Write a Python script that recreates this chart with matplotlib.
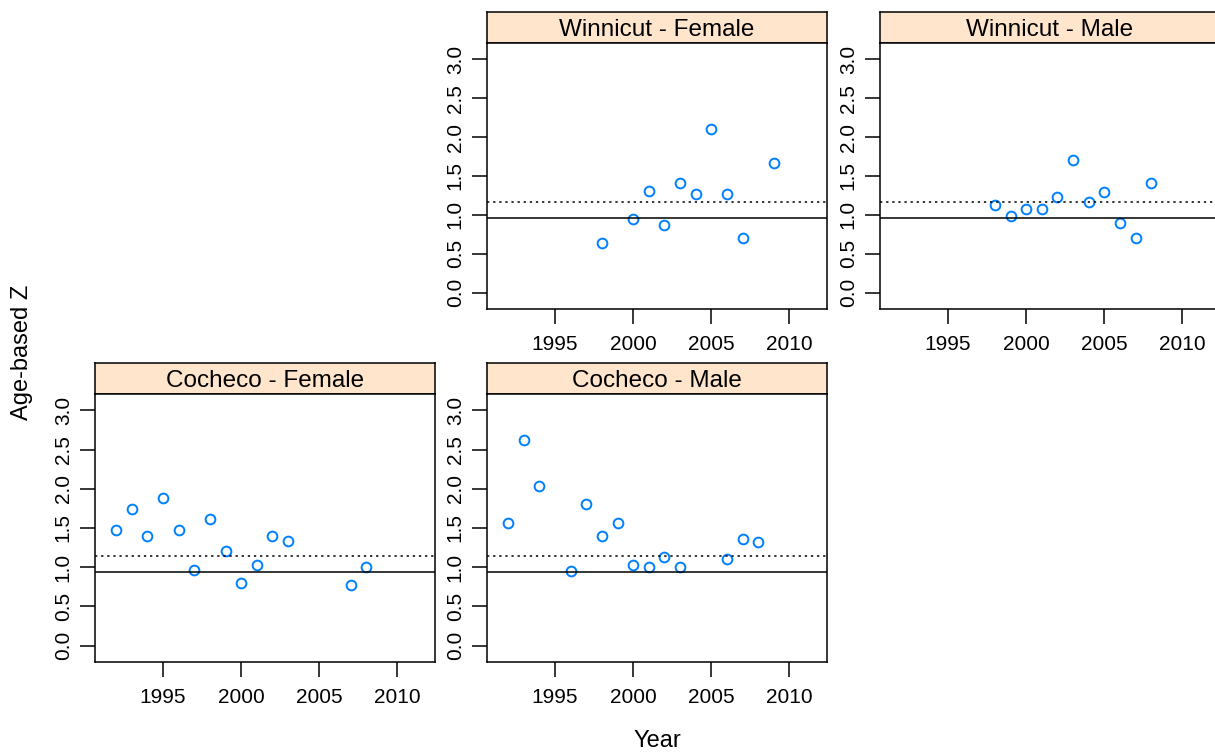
import matplotlib
matplotlib.use("Agg")
import matplotlib.pyplot as plt

plt.rcParams['font.family'] = ['Liberation Sans', 'DejaVu Sans']

# data
wf_years = [1998, 2000, 2001, 2002, 2003, 2004, 2005, 2006, 2007, 2009]
wf_z = [0.64, 0.95, 1.31, 0.87, 1.41, 1.27, 2.10, 1.27, 0.70, 1.67]

wm_years = [1998, 1999, 2000, 2001, 2002, 2003, 2004, 2005, 2006, 2007, 2008]
wm_z = [1.13, 0.98, 1.07, 1.07, 1.23, 1.71, 1.17, 1.29, 0.89, 0.70, 1.41]

cf_years = [1992, 1993, 1994, 1995, 1996, 1997, 1998, 1999, 2000, 2001, 2002, 2003, 2007, 2008]
cf_z = [1.48, 1.74, 1.40, 1.88, 1.48, 0.97, 1.62, 1.21, 0.80, 1.03, 1.40, 1.34, 0.77, 1.00]

cm_years = [1992, 1993, 1994, 1996, 1997, 1998, 1999, 2000, 2001, 2002, 2003, 2006, 2007, 2008]
cm_z = [1.56, 2.62, 2.03, 0.95, 1.80, 1.40, 1.56, 1.03, 1.00, 1.13, 1.00, 1.11, 1.36, 1.32]

# reference lines (dotted and solid) per river
winnicut_ref = [1.16, 0.955]
cocheco_ref = [1.14, 0.94]

xticks = [1995, 2000, 2005, 2010]
yticks = [0.0, 0.5, 1.0, 1.5, 2.0, 2.5, 3.0]

W, H = 1215, 755
fig = plt.figure(figsize=(W / 100, H / 100), dpi=100)


def px_axes(l, t, r, b):
    return fig.add_axes([l / W, 1 - b / H, (r - l) / W, (b - t) / H])


def panel(l, t, r, b, title, years, z, ref):
    strip = px_axes(l, t - 31, r, t)
    strip.set_facecolor("#ffe5cc")
    strip.set_xticks([])
    strip.set_yticks([])
    for s in strip.spines.values():
        s.set_linewidth(1.1)
    strip.text(0.5, 0.42, title, ha="center", va="center", fontsize=17.5,
               transform=strip.transAxes)

    ax = px_axes(l, t, r, b)
    ax.plot(years, z, "o", mfc="none", mec="#0080ff", ms=7, mew=1.4)
    ax.axhline(ref[0], color="black", ls=(0, (1.5, 2.5)), lw=1.1)
    ax.axhline(ref[1], color="black", ls="-", lw=1.1)
    ax.set_xlim(1990.65, 2012.4)
    ax.set_ylim(-0.21, 3.21)
    ax.set_xticks(xticks)
    ax.set_yticks(yticks)
    ax.set_yticklabels(["%.1f" % v for v in yticks], rotation=90, va="center")
    ax.tick_params(length=11, width=1.1, labelsize=15)
    ax.tick_params(axis="x", pad=8)
    ax.tick_params(axis="y", pad=5)
    for s in ax.spines.values():
        s.set_linewidth(1.1)
    return ax


panel(487, 43, 827, 309, "Winnicut - Female", wf_years, wf_z, winnicut_ref)
panel(880, 43, 1220, 309, "Winnicut - Male", wm_years, wm_z, winnicut_ref)
panel(95, 394, 435, 662, "Cocheco - Female", cf_years, cf_z, cocheco_ref)
panel(487, 394, 827, 662, "Cocheco - Male", cm_years, cm_z, cocheco_ref)

fig.text(657 / W, 1 - 741 / H, "Year", ha="center", va="center", fontsize=17)
fig.text(22 / W, 1 - 352 / H, "Age-based Z", ha="center", va="center",
         rotation=90, fontsize=17)

plt.savefig("out.png", dpi=100)
